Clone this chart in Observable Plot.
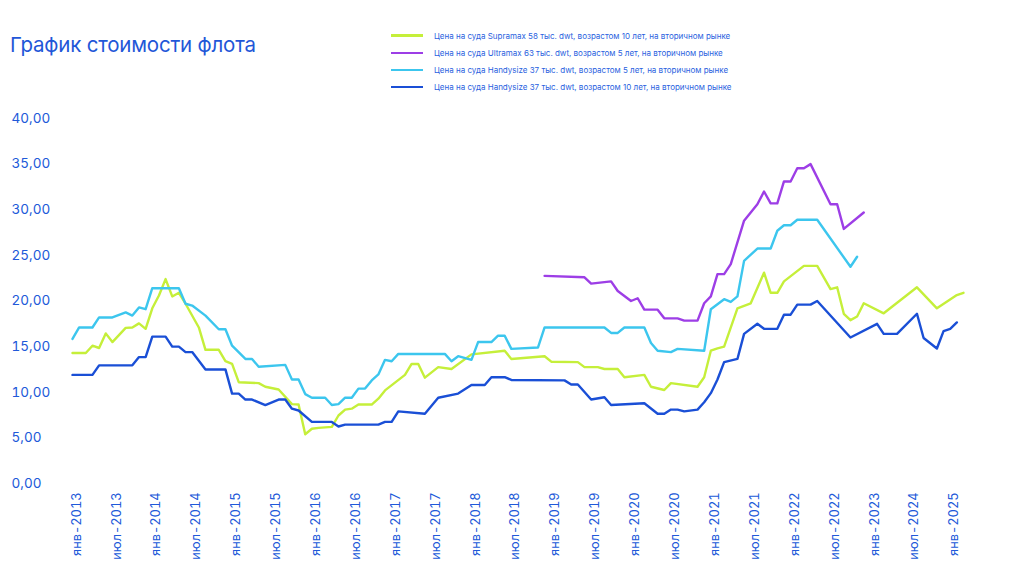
<!DOCTYPE html>
<html>
<head>
<meta charset="utf-8">
<script src="https://cdn.jsdelivr.net/npm/d3@7"></script>
<script src="https://cdn.jsdelivr.net/npm/@observablehq/plot@0.6"></script>
<style>
  body { margin: 0; background: #fff; }
  #wrap { position: relative; width: 1024px; height: 576px; font-family: Inter, "Noto Sans", sans-serif; color: #2159d9; }
  #title { position: absolute; left: 10px; top: 31px; font-size: 20.5px; line-height: 28px; color: #1f57d8; letter-spacing: -0.2px; }
  #legend { position: absolute; left: 391px; top: 27px; font-size: 8px; color: #2a5fe0; }
  .row { display: flex; align-items: center; height: 17.2px; }
  .sw { width: 32px; height: 2.5px; margin-right: 11px; }
  #chart { position: absolute; left: 0; top: 0; }
</style>
</head>
<body>
<div id="wrap">
  <div id="chart"></div>
  <div id="title">График стоимости флота</div>
  <div id="legend"></div>
</div>
<script>
// x positions are month indices from янв-2013 (0) along the category axis
const tickLabels = ["янв-2013","июл-2013","янв-2014","июл-2014","янв-2015","июл-2015","янв-2016","июл-2016","янв-2017","июл-2017","янв-2018","июл-2018","янв-2019","июл-2019","янв-2020","июл-2020","янв-2021","июл-2021","янв-2022","июл-2022","янв-2023","июл-2024","янв-2025"];
const yTicks = [0,5,10,15,20,25,30,35,40];

const seriesNames = [
  "Цена на суда Supramax 58 тыс. dwt, возрастом 10 лет, на вторичном рынке",
  "Цена на суда Ultramax 63 тыс. dwt, возрастом 5 лет, на вторичном рынке",
  "Цена на суда Handysize 37 тыс. dwt, возрастом 5 лет, на вторичном рынке",
  "Цена на суда Handysize 37 тыс. dwt, возрастом 10 лет, на вторичном рынке"
];
const seriesColors = ["#c5ef3a", "#9d3ee6", "#3cc6ee", "#1a4fd6"];

const supramax = [[0,14.3],[2,14.3],[3,15.1],[4,14.85],[5,16.45],[6,15.5],[8,17.05],[9,17.1],[10,17.55],[11,16.95],[12,19.2],[13,20.6],[14,22.4],[15,20.5],[16,20.9],[17,19.7],[19,17.1],[20,14.65],[22,14.65],[23,13.4],[24,13.1],[25,11.1],[28,11.0],[29,10.6],[31,10.3],[33,8.7],[34,8.65],[35,5.4],[36,6.0],[37,6.1],[39,6.2],[40,7.45],[41,8.1],[42,8.2],[43,8.65],[45,8.65],[46,9.3],[47,10.2],[50,11.9],[51,13.1],[52,13.1],[53,11.6],[55,12.75],[57,12.55],[60,14.15],[65,14.55],[66,13.65],[71,13.95],[72,13.35],[76,13.3],[77,12.75],[79,12.75],[80,12.55],[82,12.55],[83,11.65],[86,11.9],[87,10.6],[89,10.25],[90,11.0],[94,10.6],[95,11.65],[96,14.55],[97,14.8],[98,15.0],[100,19.2],[102,19.75],[104,23.1],[105,20.9],[106,20.9],[107,22.15],[110,23.85],[112,23.85],[114,21.3],[115,21.5],[116,18.6],[117,17.9],[118,18.3],[119,19.75],[122,18.65],[127,21.5],[130,19.2],[133,20.65],[134,20.9]];

const ultramax = [[71,22.75],[77,22.6],[78,21.9],[81,22.15],[82,21.1],[84,20.0],[85,20.3],[86,19.05],[88,19.05],[89,18.1],[91,18.1],[92,17.85],[94,17.85],[95,19.75],[96,20.5],[97,22.95],[98,22.95],[99,24.05],[101,28.8],[103,30.6],[104,32.0],[105,30.7],[106,30.7],[107,33.1],[108,33.1],[109,34.55],[110,34.55],[111,35.0],[114,30.6],[115,30.6],[116,27.9],[119,29.7]];

const handysize5 = [[0,15.85],[1,17.1],[3,17.1],[4,18.2],[6,18.2],[8,18.75],[9,18.4],[10,19.3],[11,19.1],[12,21.4],[16,21.4],[17,19.7],[18,19.5],[20,18.4],[22,16.9],[23,16.9],[24,15.1],[26,13.65],[27,13.65],[28,12.8],[32,13.0],[33,11.4],[34,11.4],[35,9.8],[36,9.4],[38,9.4],[39,8.6],[40,8.7],[41,9.4],[42,9.4],[43,10.4],[44,10.4],[45,11.3],[46,11.95],[47,13.55],[48,13.4],[49,14.2],[56,14.2],[57,13.4],[58,13.95],[60,13.55],[61,15.5],[63,15.5],[64,16.2],[65,16.2],[66,14.75],[70,14.9],[71,17.1],[80,17.1],[81,16.5],[82,16.5],[83,17.1],[86,17.1],[87,15.4],[88,14.55],[90,14.4],[91,14.75],[95,14.55],[96,19.1],[98,20.2],[99,19.9],[100,20.5],[101,24.4],[103,25.75],[105,25.75],[106,27.7],[107,28.3],[108,28.3],[109,28.9],[112,28.9],[117,23.75],[118,24.85]];

const handysize10 = [[0,11.9],[3,11.9],[4,12.95],[9,12.95],[10,13.85],[11,13.85],[12,16.1],[14,16.1],[15,15.0],[16,15.0],[17,14.4],[18,14.4],[20,12.5],[23,12.5],[24,9.85],[25,9.85],[26,9.2],[27,9.2],[29,8.6],[31,9.2],[32,9.2],[33,8.2],[34,8.0],[36,6.75],[39,6.75],[40,6.25],[41,6.45],[46,6.45],[47,6.75],[48,6.75],[49,7.9],[53,7.65],[55,9.4],[58,9.85],[60,10.8],[62,10.8],[63,11.65],[65,11.65],[66,11.35],[74,11.3],[75,10.85],[76,10.85],[78,9.2],[80,9.45],[81,8.6],[86,8.8],[88,7.65],[89,7.65],[90,8.1],[91,8.1],[92,7.9],[94,8.1],[95,8.9],[96,9.9],[97,11.4],[98,13.3],[100,13.65],[101,16.4],[103,17.5],[104,16.95],[106,16.95],[107,18.5],[108,18.5],[109,19.6],[111,19.6],[112,20.0],[117,16.0],[121,17.5],[122,16.4],[124,16.4],[127,18.6],[128,15.95],[130,14.8],[131,16.7],[132,16.95],[133,17.65]];

const allSeries = [supramax, ultramax, handysize5, handysize10];

const chart = Plot.plot({
  width: 1024,
  height: 576,
  marginLeft: 72,
  marginRight: 61,
  marginTop: 118,
  marginBottom: 93,
  style: { fontFamily: "Inter, 'Noto Sans', sans-serif", fontSize: "13.5px", color: "#2159d9", background: "transparent", overflow: "visible" },
  x: { domain: [0, 134] },
  y: { domain: [0, 40] },
  marks: [
    Plot.axisY({ ticks: yTicks, tickSize: 0, tickPadding: 0, textAnchor: "start", dx: -61, tickFormat: d => d.toFixed(2).replace(".", ","), label: null, fontSize: 13.5 }),
    Plot.axisX({ ticks: tickLabels.map((_, k) => k * 6), tickSize: 0, tickPadding: 9, tickRotate: -90, dx: 4, tickFormat: i => tickLabels[i / 6], label: null, fontSize: 12.8 }),
    ...allSeries.map((s, k) => Plot.line(s, { x: d => d[0], y: d => d[1], stroke: seriesColors[k], strokeWidth: 2.4, strokeLinejoin: "round" }))
  ]
});
document.getElementById("chart").appendChild(chart);

const legend = document.getElementById("legend");
seriesNames.forEach((name, k) => {
  const row = document.createElement("div");
  row.className = "row";
  const sw = document.createElement("div");
  sw.className = "sw";
  sw.style.background = seriesColors[k];
  const t = document.createElement("span");
  t.textContent = name;
  row.appendChild(sw);
  row.appendChild(t);
  legend.appendChild(row);
});
</script>
</body>
</html>
